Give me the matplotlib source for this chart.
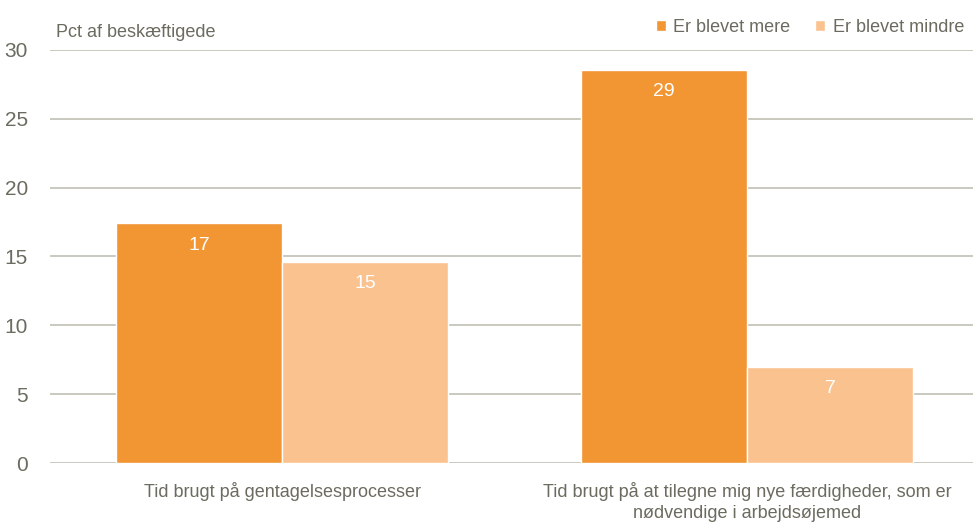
import matplotlib.pyplot as plt
import numpy as np

categories = ["Tid brugt på gentagelsesprocesser",
              "Tid brugt på at tilegne mig nye færdigheder, som er\nnødvendige i arbejdsøjemed"]
series_names = ["Er blevet mere", "Er blevet mindre"]
mere = [17.4, 28.55]
mindre = [14.6, 6.95]
yticks = [0, 5, 10, 15, 20, 25, 30]

plt.rcParams['font.family'] = ['Liberation Sans Narrow', 'Liberation Sans', 'DejaVu Sans']
txt = '#6b6b60'
grid = '#c0c0b4'
c1 = '#f29533'
c2 = '#f9c28e'

fig = plt.figure(figsize=(9.73, 5.24), dpi=100)
ax = fig.add_axes([0.0514, 0.1164, 0.9486, 0.7882])

x = np.arange(len(categories))
w = 0.357
b1 = ax.bar(x - w/2, mere, w, color=c1, edgecolor='white', linewidth=1, label=series_names[0], zorder=3)
b2 = ax.bar(x + w/2, mindre, w, color=c2, edgecolor='white', linewidth=1, label=series_names[1], zorder=3)

for bars, vals in ((b1, mere), (b2, mindre)):
    for r, v in zip(bars, vals):
        ax.text(r.get_x() + r.get_width()/2, v - 0.95, f"{round(v + 1e-9):.0f}", ha='center', va='top',
                color='white', fontsize=14, zorder=4)

ax.set_xlim(-0.499, 1.486)
ax.set_ylim(0, 30)
ax.set_yticks(yticks)
ax.yaxis.grid(True, color=grid, linewidth=1.2, zorder=0)
ax.set_axisbelow(True)
for s in ax.spines.values():
    s.set_visible(False)
ax.tick_params(axis='y', length=0, labelsize=15, labelcolor=txt, pad=16)
ax.tick_params(axis='x', length=0, labelsize=13, labelcolor=txt, pad=14)
ax.set_xticks(x)
ax.set_xticklabels(categories, linespacing=1.3)

fig.text(0.058, 0.93, "Pct af beskæftigede", color=txt, fontsize=13, ha='left', va='baseline')

leg = ax.legend(loc='lower right', bbox_to_anchor=(1.0, 1.012), ncol=2, frameon=False,
                fontsize=13, handlelength=0.55, handleheight=0.55, handletextpad=0.4,
                columnspacing=1.4, borderaxespad=0.3, borderpad=0.2)
for t in leg.get_texts():
    t.set_color(txt)

fig.savefig('out.png', dpi=100)
